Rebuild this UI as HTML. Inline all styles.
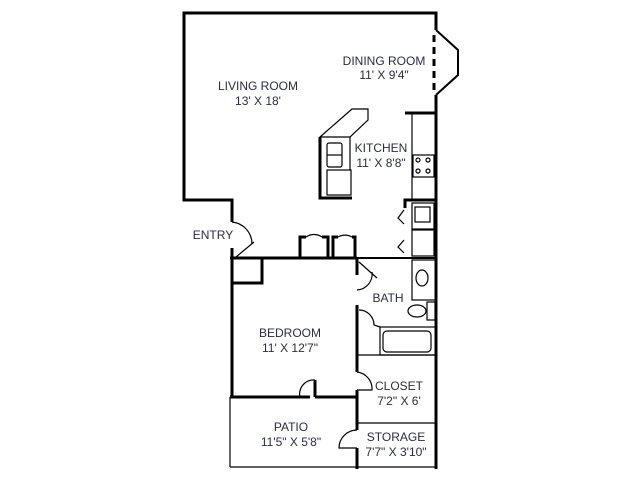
<!DOCTYPE html>
<html><head><style>
html,body{margin:0;padding:0;background:#fff;}
svg{display:block;}
text{font-family:"Liberation Sans",sans-serif;font-size:12px;fill:#2b2b45;text-anchor:middle;}
</style></head><body>
<svg width="640" height="480" viewBox="0 0 640 480">
<g fill="none" stroke="#000" stroke-width="3">
<!-- outer -->
<polyline points="436,30 436,13 184,13 184,200 232,200 232,222"/>
<line x1="436" y1="95" x2="436" y2="469"/>
<polyline points="436,30 458,50 458,75 436,95" stroke-width="2"/>
<line x1="434" y1="35" x2="434" y2="92" stroke-dasharray="7,5"/>
<!-- entry -->
<polyline points="232,248 232,283 262,283 262,258"/>
<line x1="230" y1="258" x2="357" y2="258"/>
<!-- closets -->
<polyline points="300,258 300,237 306,237"/>
<polyline points="322,237 328,237 328,258"/>
<polyline points="333,258 333,237 338,237"/>
<polyline points="352,237 355,237 355,258"/>
<!-- bath wall -->
<polyline points="357,258 357,275"/>
<line x1="357" y1="305" x2="357" y2="372"/>
<line x1="357" y1="390" x2="357" y2="430"/>
<line x1="357" y1="448" x2="357" y2="469"/>
<line x1="357" y1="258" x2="436" y2="258" stroke-width="2"/>
<!-- bedroom -->
<line x1="232" y1="283" x2="232" y2="397"/>
<line x1="230" y1="397" x2="310" y2="397"/>
<line x1="315" y1="397" x2="315" y2="380"/>
<line x1="315" y1="397" x2="357" y2="397"/>
<!-- kitchen -->
<polyline points="320,137 320,198 352,198"/>
<polyline points="405,113 436,113"/>
<polyline points="405,208 405,200 436,200"/>
</g>
<g fill="none" stroke="#000" stroke-width="1.2">
<line x1="230" y1="397" x2="230" y2="467"/>
<line x1="230" y1="467" x2="436" y2="467"/>
<line x1="357" y1="355" x2="436" y2="355"/>
<line x1="357" y1="423" x2="436" y2="423"/>
<polygon points="320,137 352,109 368,109 368,120 350,137"/>
<line x1="350" y1="137" x2="350" y2="170"/>
<rect x="327" y="170" width="24" height="25"/>
<rect x="327" y="143" width="15" height="24" rx="2"/>
<line x1="327" y1="155" x2="342" y2="155"/>
<line x1="412" y1="113" x2="412" y2="200"/>
<rect x="413" y="155" width="21" height="22"/>
<circle cx="418" cy="160" r="2"/><circle cx="428" cy="160" r="2"/>
<circle cx="418" cy="171" r="2"/><circle cx="428" cy="171" r="2"/>
<rect x="412" y="203" width="22" height="26"/>
<rect x="415" y="207" width="15" height="15"/>
<rect x="412" y="230" width="22" height="26"/>
<polyline points="404,210 398,218 404,224"/>
<polyline points="404,240 398,247 404,253"/>
<!-- bath fixtures -->
<rect x="412" y="260" width="24" height="40"/>
<ellipse cx="422" cy="278" rx="6" ry="8"/>
<ellipse cx="417" cy="311" rx="9" ry="6"/>
<rect x="427" y="302" width="8" height="18"/>
<rect x="380" y="327" width="56" height="28"/>
<rect x="383" y="331" width="48" height="21" rx="4"/>
<!-- doors -->
<path d="M232,222 A22,22 0 0 1 252,244"/>
<line x1="236" y1="257" x2="254" y2="242"/>
<path d="M306,237 A14,14 0 0 1 322,237"/>
<path d="M338,237 A14,14 0 0 1 352,237"/>
<line x1="359" y1="262" x2="377" y2="278"/>
<path d="M357,290 A16,16 0 0 0 372,272"/>
<path d="M359,310 A15,15 0 0 1 374,325 L380,327"/>
<path d="M357,372 A17,17 0 0 1 372,390 L357,390"/>
<path d="M315,380 A14,14 0 0 0 300,397"/>
<path d="M357,430 A18,18 0 0 0 339,448 L357,448"/>
</g>
<text x="258" y="90">LIVING ROOM</text>
<text x="258" y="105">13' X 18'</text>
<text x="384" y="65">DINING ROOM</text>
<text x="384" y="79">11' X 9'4"</text>
<text x="381" y="152">KITCHEN</text>
<text x="381" y="167">11' X 8'8"</text>
<text x="213" y="239">ENTRY</text>
<text x="388" y="302">BATH</text>
<text x="290" y="337">BEDROOM</text>
<text x="290" y="352">11' X 12'7"</text>
<text x="399" y="390">CLOSET</text>
<text x="399" y="405">7'2" X 6'</text>
<text x="291" y="431">PATIO</text>
<text x="291" y="446">11'5" X 5'8"</text>
<text x="396" y="441">STORAGE</text>
<text x="396" y="456">7'7" X 3'10"</text>
</svg>
</body></html>
